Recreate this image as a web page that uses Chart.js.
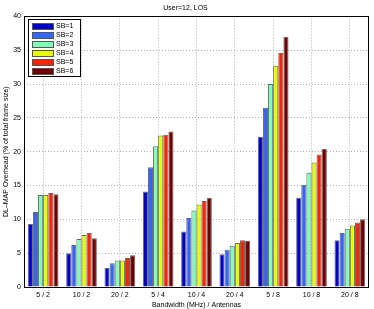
<!DOCTYPE html>
<html>
<head>
<meta charset="utf-8">
<script src="https://cdn.jsdelivr.net/npm/chart.js@4/dist/chart.umd.min.js"></script>
<style>
  html, body { margin: 0; padding: 0; background: #fff; }
</style>
</head>
<body>
<canvas id="c" width="374" height="309"></canvas>
<script>
// categories (bandwidth / antennas)
const labels = ["5 / 2", "10 / 2", "20 / 2", "5 / 4", "10 / 4", "20 / 4", "5 / 8", "10 / 8", "20 / 8"];

// DL-MAP overhead per SB value
const sb1 = [9.3, 5.0, 2.8, 14.1, 8.2, 4.85, 22.2, 13.2, 6.9];
const sb2 = [11.1, 6.2, 3.5, 17.7, 10.2, 5.5, 26.5, 15.1, 8.0];
const sb3 = [13.6, 7.1, 3.9, 20.8, 11.3, 6.1, 30.0, 16.9, 8.6];
const sb4 = [13.6, 7.7, 3.9, 22.4, 12.2, 6.5, 32.7, 18.4, 9.1];
const sb5 = [13.9, 8.0, 4.3, 22.5, 12.7, 6.9, 34.6, 19.6, 9.55];
const sb6 = [13.7, 7.2, 4.7, 23.0, 13.2, 6.85, 37.0, 20.4, 10.0];

const seriesNames = ["SB=1", "SB=2", "SB=3", "SB=4", "SB=5", "SB=6"];
const colors = ["#0000cc", "#3366ff", "#80ffb8", "#e6ff00", "#ff2200", "#700000"];

const font = "'Liberation Sans', Arial, sans-serif";

// MATLAB style frame + legend box inside the axes
const framePlugin = {
  id: "frame",
  afterDraw(chart) {
    const { ctx, chartArea: a } = chart;
    ctx.save();
    ctx.strokeStyle = "#000";
    ctx.lineWidth = 1;
    ctx.strokeRect(Math.round(a.left) + 0.5, Math.round(a.top) + 0.5,
      Math.round(a.right - a.left) - 1, Math.round(a.bottom - a.top));

    // legend
    const x = Math.round(a.left) + 4, y = Math.round(a.top) + 3, w = 52, h = 57;
    ctx.fillStyle = "#fff";
    ctx.fillRect(x, y, w, h);
    ctx.strokeStyle = "#000";
    ctx.strokeRect(x + 0.5, y + 0.5, w, h);
    ctx.font = "7px " + font;
    ctx.textBaseline = "middle";
    chart.data.datasets.forEach((ds, i) => {
      const ry = y + 4 + i * 9;
      ctx.fillStyle = ds.backgroundColor;
      ctx.fillRect(x + 4, ry, 21, 6);
      ctx.strokeStyle = "#555";
      ctx.strokeRect(x + 4.5, ry + 0.5, 21, 6);
      ctx.fillStyle = "#000";
      ctx.fillText(ds.label, x + 28, ry + 3.5);
    });
    ctx.restore();
  }
};

const allSeries = [sb1, sb2, sb3, sb4, sb5, sb6];

new Chart(document.getElementById("c"), {
  type: "bar",
  data: {
    labels: labels,
    datasets: allSeries.map((d, i) => ({
      label: seriesNames[i],
      data: d,
      backgroundColor: colors[i],
      borderColor: "#666",
      borderWidth: 1,
      categoryPercentage: 0.8,
      barPercentage: 1.0
    }))
  },
  options: {
    responsive: false,
    animation: false,
    layout: { padding: { left: 2, right: 5, top: 0, bottom: 0 } },
    plugins: {
      legend: { display: false },
      tooltip: { enabled: false },
      title: {
        display: true,
        text: "User=12, LOS",
        color: "#000",
        font: { family: font, size: 7, weight: "normal" },
        padding: { top: 4, bottom: 4 }
      }
    },
    scales: {
      x: {
        grid: { color: "#b0b0b0", drawTicks: false, offset: false },
        border: { display: false, dash: [1, 2] },
        ticks: { color: "#000", font: { family: font, size: 7 }, padding: 4, maxRotation: 0 },
        title: {
          display: true,
          text: "Bandwidth (MHz) / Antennas",
          color: "#000",
          font: { family: font, size: 7 },
          padding: { top: 1, bottom: 0 }
        },
        afterFit(s) { s.height = 22; }
      },
      y: {
        min: 0,
        max: 40,
        ticks: { stepSize: 5, color: "#000", font: { family: font, size: 7 }, padding: 3 },
        grid: { color: "#b0b0b0", drawTicks: false },
        border: { display: false, dash: [1, 2] },
        title: {
          display: true,
          text: "DL–MAP Overhead (% of total frame size)",
          color: "#000",
          font: { family: font, size: 7 },
          padding: { top: 0, bottom: 0 }
        },
        afterFit(s) { s.width = 22; }
      }
    }
  },
  plugins: [framePlugin]
});
</script>
</body>
</html>
